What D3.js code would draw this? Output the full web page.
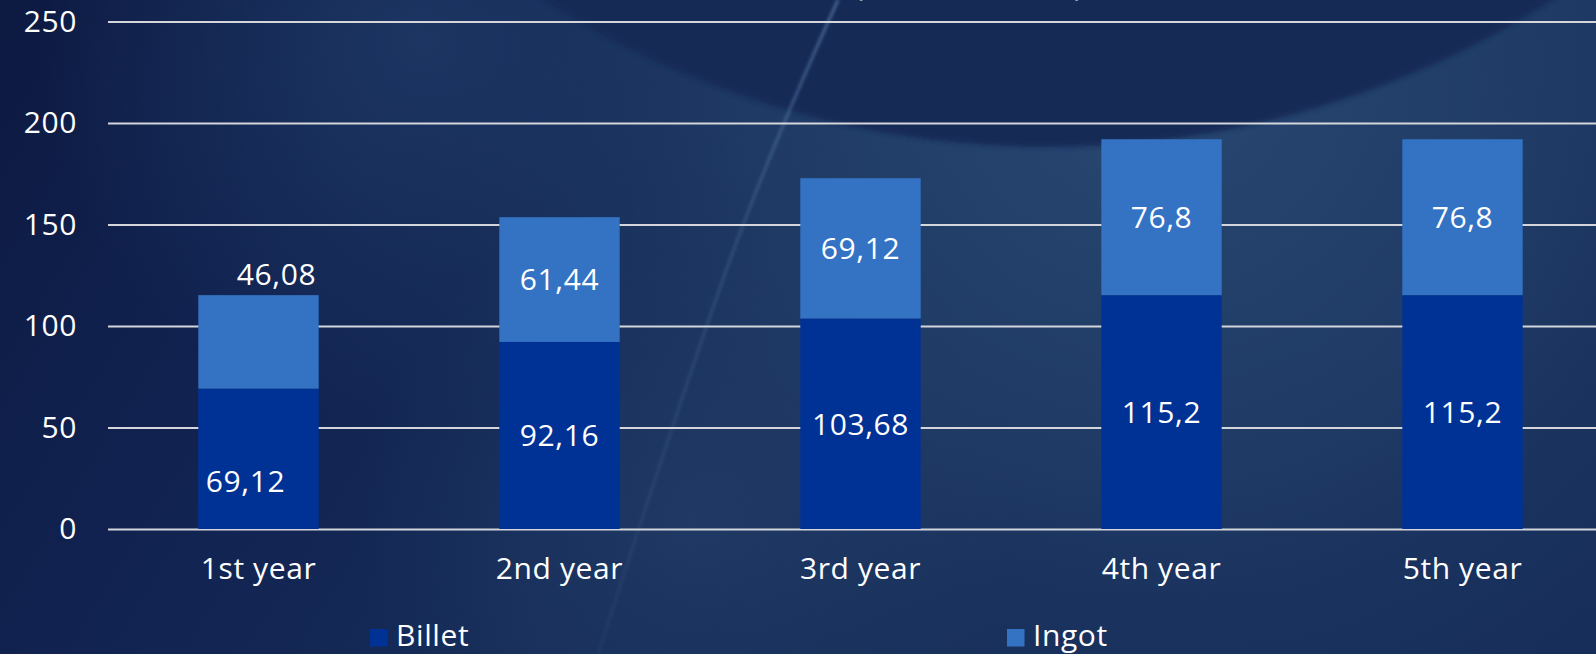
<!DOCTYPE html>
<html>
<head>
<meta charset="utf-8">
<script src="https://cdn.jsdelivr.net/npm/d3@7"></script>
<style>
  html, body { margin: 0; padding: 0; background: #13254f; overflow: hidden; }
  svg { display: block; }
  text { font-family: "Open Sans", "Noto Sans", sans-serif; fill: #ffffff; letter-spacing: 0.6px; }
</style>
</head>
<body>
<svg id="chart" width="1596" height="654"></svg>
<script>
// ---- data ----
const categories = ["1st year", "2nd year", "3rd year", "4th year", "5th year"];
const billet = [69.12, 92.16, 103.68, 115.2, 115.2];
const ingot = [46.08, 61.44, 69.12, 76.8, 76.8];
const seriesNames = ["Billet", "Ingot"];
const yTicks = [0, 50, 100, 150, 200, 250];
const titleText = "(thousand tons)";

// hand-placed labels on the first column (pixel nudges: [dx, dy])
const billetLabelNudge = [[-13, 22], [0, 0], [0, 0], [0, 0], [0, 0]];
const ingotLabelNudge = [[18, -68], [0, 0], [0, 0], [0, 0], [0, 0]];

const colors = { Billet: "#003296", Ingot: "#3473c3" };

const W = 1596, H = 654;
const FONT = 30;
const svg = d3.select("#chart");
const defs = svg.append("defs");

// ---- background ----
const bgGrad = defs.append("linearGradient").attr("id", "bgGrad")
  .attr("x1", 0).attr("y1", 0).attr("x2", 1).attr("y2", 0.25);
[["0%", "#0d1a42"], ["25%", "#112250"], ["55%", "#162c58"], ["100%", "#172e5a"]]
  .forEach(([o, c]) => bgGrad.append("stop").attr("offset", o).attr("stop-color", c));

const glow = defs.append("radialGradient").attr("id", "glow")
  .attr("gradientUnits", "userSpaceOnUse")
  .attr("cx", 1150).attr("cy", 60).attr("r", 720);
glow.append("stop").attr("offset", "0%").attr("stop-color", "#2a4a74").attr("stop-opacity", 0.95);
glow.append("stop").attr("offset", "55%").attr("stop-color", "#23416b").attr("stop-opacity", 0.7);
glow.append("stop").attr("offset", "100%").attr("stop-color", "#1c3762").attr("stop-opacity", 0);

const glowLeft = defs.append("radialGradient").attr("id", "glowLeft")
  .attr("gradientUnits", "userSpaceOnUse")
  .attr("cx", 420).attr("cy", 40).attr("r", 380);
glowLeft.append("stop").attr("offset", "0%").attr("stop-color", "#1f3a66").attr("stop-opacity", 0.8);
glowLeft.append("stop").attr("offset", "100%").attr("stop-color", "#1f3a66").attr("stop-opacity", 0);

const glowLow = defs.append("radialGradient").attr("id", "glowLow")
  .attr("gradientUnits", "userSpaceOnUse")
  .attr("cx", 690).attr("cy", 520).attr("r", 330);
glowLow.append("stop").attr("offset", "0%").attr("stop-color", "#223e68").attr("stop-opacity", 0.7);
glowLow.append("stop").attr("offset", "100%").attr("stop-color", "#223e68").attr("stop-opacity", 0);

const streakGrad = defs.append("linearGradient").attr("id", "streakGrad")
  .attr("gradientUnits", "userSpaceOnUse")
  .attr("x1", 0).attr("y1", 0).attr("x2", 0).attr("y2", H);
streakGrad.append("stop").attr("offset", "0%").attr("stop-color", "#6f93c0").attr("stop-opacity", 0.55);
streakGrad.append("stop").attr("offset", "35%").attr("stop-color", "#5a7fae").attr("stop-opacity", 0.3);
streakGrad.append("stop").attr("offset", "100%").attr("stop-color", "#4a6d9c").attr("stop-opacity", 0.12);

defs.append("filter").attr("id", "soft").attr("x", "-10%").attr("y", "-10%")
  .attr("width", "120%").attr("height", "120%")
  .append("feGaussianBlur").attr("stdDeviation", 2.5);
defs.append("filter").attr("id", "softer")
  .append("feGaussianBlur").attr("stdDeviation", 1.5);

const bg = svg.append("g").attr("class", "background");
bg.append("rect").attr("width", W).attr("height", H).attr("fill", "url(#bgGrad)");
bg.append("rect").attr("width", W).attr("height", H).attr("fill", "url(#glowLeft)");
bg.append("rect").attr("width", W).attr("height", H).attr("fill", "url(#glow)");
bg.append("rect").attr("width", W).attr("height", H).attr("fill", "url(#glowLow)");
// large darker disc hanging from the top edge
bg.append("circle").attr("cx", 1048).attr("cy", -794).attr("r", 941)
  .attr("fill", "#142a56").attr("filter", "url(#soft)");
// thin light streak
bg.append("path").attr("d", "M838,0 Q770,150 730,260 T598,654")
  .attr("fill", "none").attr("stroke", "url(#streakGrad)")
  .attr("stroke-width", 3).attr("filter", "url(#softer)");

// ---- scales ----
const x = d3.scaleBand().domain(categories).range([108, 1613])
  .paddingInner(0.6).paddingOuter(0.3);
const y = d3.scaleLinear().domain([0, 250]).range([529, 21.5]);

const fmt = d3.formatLocale({ decimal: ",", thousands: " ", grouping: [3], currency: ["", ""] })
  .format(".2~f");

// ---- title (runs off the top edge) ----
svg.append("text").attr("x", 969).attr("y", -4.5)
  .attr("text-anchor", "middle").attr("font-size", FONT)
  .text(titleText);

// ---- gridlines + y axis ----
const yAxis = d3.axisLeft(y).tickValues(yTicks).tickSize(-(W - 108)).tickPadding(31)
  .tickFormat(d3.format("d"));
const gy = svg.append("g").attr("transform", "translate(108,0)").call(yAxis);
gy.select(".domain").remove();
gy.selectAll(".tick line").attr("stroke", "#d4d6dc").attr("stroke-width", 2);
gy.selectAll(".tick text").attr("font-size", FONT).attr("fill", "#ffffff")
  .attr("font-family", "'Open Sans', sans-serif").attr("dy", "0.33em");

// ---- stacked bars ----
const rows = categories.map((c, i) => ({ cat: c, Billet: billet[i], Ingot: ingot[i] }));
const stack = d3.stack().keys(seriesNames)(rows);

const gBars = svg.append("g");
stack.forEach(layer => {
  gBars.selectAll(null).data(layer).enter().append("rect")
    .attr("x", d => x(d.data.cat))
    .attr("width", x.bandwidth())
    .attr("y", d => y(d[1]))
    .attr("height", d => y(d[0]) - y(d[1]))
    .attr("fill", colors[layer.key]);
});

// ---- value labels ----
const gLab = svg.append("g");
stack.forEach(layer => {
  const nudge = layer.key === "Billet" ? billetLabelNudge : ingotLabelNudge;
  gLab.selectAll(null).data(layer).enter().append("text")
    .attr("x", (d, i) => x(d.data.cat) + x.bandwidth() / 2 + nudge[i][0])
    .attr("y", (d, i) => (y(d[0]) + y(d[1])) / 2 + nudge[i][1])
    .attr("dy", "0.36em")
    .attr("text-anchor", "middle")
    .attr("font-size", FONT)
    .text(d => fmt(d.data[layer.key]));
});

// ---- category axis labels ----
const xAxis = d3.axisBottom(x).tickSize(0).tickPadding(0);
const gx = svg.append("g").attr("transform", "translate(0,529)").call(xAxis);
gx.select(".domain").remove();
gx.selectAll(".tick text").attr("font-size", FONT).attr("fill", "#ffffff")
  .attr("font-family", "'Open Sans', sans-serif")
  .attr("dy", null).attr("y", 50);

// ---- legend ----
const legend = svg.append("g").attr("transform", "translate(370,0)");
const li = legend.selectAll("g").data(seriesNames).enter().append("g")
  .attr("transform", (d, i) => `translate(${i * 637},0)`);
li.append("rect").attr("x", 0).attr("y", 629).attr("width", 17.5).attr("height", 17.5)
  .attr("fill", d => colors[d]);
li.append("text").attr("x", 26).attr("y", 646).attr("font-size", FONT)
  .attr("letter-spacing", "1.2px").text(d => d);
</script>
</body>
</html>
